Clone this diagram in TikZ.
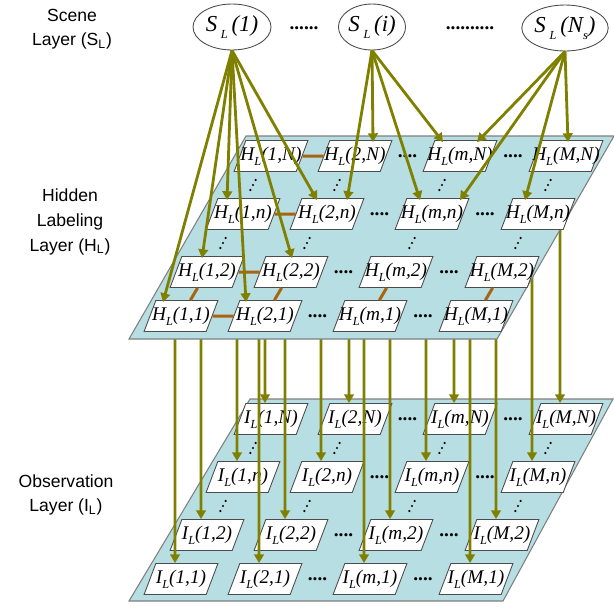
\documentclass[tikz,border=0pt]{standalone}
\usepackage{fontspec}
\setmainfont{Liberation Serif}
\newfontfamily\layerfont{Liberation Sans}
\usetikzlibrary{arrows.meta,calc,shapes.geometric}
\definecolor{planecyan}{HTML}{B7DEE2}
\definecolor{planeedge}{HTML}{7F7F7F}
\definecolor{arrowolive}{HTML}{808000}
\definecolor{linkbrown}{HTML}{A8640F}
\newcommand{\clab}[3]{\makebox[0.8cm][c]{\textit{#1\raisebox{-0.55ex}{\scriptsize L}(#2,#3)}}}
\newcommand{\slab}[1]{\textit{S\,\raisebox{-0.6ex}{\scriptsize L}\,(#1)}}
\tikzset{
  plane/.style={draw=planeedge,fill=planecyan,line width=0.6pt},
  cell/.style={trapezium,trapezium left angle=63,trapezium right angle=117,trapezium stretches=true,
    draw=gray!60!black,fill=white,line width=0.5pt,inner sep=0pt,minimum width=1.48cm,minimum height=0.62cm,
    font=\fontsize{11}{13}\selectfont},
  scenenode/.style={ellipse,draw=gray!60!black,line width=0.5pt,inner sep=0pt,minimum height=0.92cm,
    font=\fontsize{13}{15}\selectfont},
  layerlabel/.style={align=center,font=\layerfont\fontsize{10}{14}\selectfont},
  hdots/.style={anchor=base,inner sep=0pt,font=\fontsize{11}{13}\selectfont\bfseries},
  sarrow/.style={-{Triangle[length=5pt,width=5.5pt]},line width=1.6pt,arrowolive},
  link/.style={line width=1.7pt,linkbrown}
}
\pgfdeclarelayer{obs}
\pgfdeclarelayer{drop}
\pgfdeclarelayer{hplane}
\pgfsetlayers{obs,drop,hplane,main}

\begin{document}
\begin{tikzpicture}[x=0.02cm,y=-0.02cm]
  \useasboundingbox (0,0) rectangle (614,606);
  % layer names
  \node[layerlabel] (lab-s) at (72,29) {Scene\\Layer (S\textsubscript{L})};
  \node[layerlabel] (lab-h) at (70,222) {Hidden\\Labeling\\Layer (H\textsubscript{L})};
  \node[layerlabel] (lab-o) at (66,495) {Observation\\Layer (I\textsubscript{L})};
  % observation layer
  \begin{pgfonlayer}{obs}
    \draw[plane] (129,601) -- (503,601) -- (613,399) -- (250,399) -- cycle;
    \foreach \c/\cx in {1/181,2/265,m/370,M/476}{
      \foreach \r/\ry/\rs in {1/316/0,2/272/26,n/214/62,N/156/90}{
        \node[cell] (o-\c-\r) at (\cx+\rs,\ry+263) {\clab{I}{\c}{\r}};
      }
    }
    \foreach \r in {1,2,n,N}{
      \node[hdots] (od-\r-a) at ($(o-2-\r)!0.5!(o-m-\r)+(0,1)$) {....};
      \node[hdots] (od-\r-b) at ($(o-m-\r)!0.5!(o-M-\r)+(0,1)$) {....};
    }
    \foreach \c in {1,2,m,M}
      \foreach \a/\b/\dx in {N/n/-4,n/2/-2}
        \foreach \k in {-1,0,1}
          \fill ($(o-\c-\a)!0.5!(o-\c-\b)+(\dx+\k*2.6,-\k*5)$) circle (1.2);
  \end{pgfonlayer}
  % hidden labeling layer
  \begin{pgfonlayer}{hplane}
    \draw[plane] (129,339) -- (497,339) -- (614,136) -- (246,136) -- cycle;
  \end{pgfonlayer}
  \foreach \c/\cx in {1/181,2/265,m/370,M/476}{
    \foreach \r/\ry/\rs in {1/316/0,2/272/26,n/214/62,N/156/90}{
      \node[cell] (h-\c-\r) at (\cx+\rs,\ry) {\clab{H}{\c}{\r}};
    }
  }
  \foreach \r in {1,2,n,N}{
    \node[hdots] (hd-\r-a) at ($(h-2-\r)!0.5!(h-m-\r)+(0,1)$) {....};
    \node[hdots] (hd-\r-b) at ($(h-m-\r)!0.5!(h-M-\r)+(0,1)$) {....};
  }
  \foreach \c in {1,2,m,M}
    \foreach \a/\b/\dx in {N/n/-4,n/2/-2}
      \foreach \k in {-1,0,1}
        \fill ($(h-\c-\a)!0.5!(h-\c-\b)+(\dx+\k*2.6,-\k*5)$) circle (1.2);
  \foreach \r in {1,2,n,N}
    \draw[link] (h-1-\r) -- (h-2-\r);
  \foreach \c in {1,2,m,M}
    \draw[link] (h-\c-2) -- (h-\c-1);
  % hidden -> observation
  \begin{pgfonlayer}{drop}
    \foreach \c in {1,2,m,M}
      \foreach \r in {1,2,n,N}
        \draw[sarrow] ([xshift=-0.12cm]h-\c-\r.center) -- ([xshift=-0.12cm]o-\c-\r.north);
  \end{pgfonlayer}
  % scene layer
  \node[scenenode,minimum width=1.56cm] (s-1) at (232,27) {\slab{1}};
  \node[scenenode,minimum width=1.34cm] (s-i) at (372,27) {\slab{i}};
  \node[scenenode,minimum width=1.54cm] (s-N) at (565,28) {\slab{N\raisebox{-0.6ex}{\scriptsize s}}};
  \node[hdots] (sd-a) at (304,29) {......};
  \node[hdots] (sd-b) at (470,29) {..........};
  \foreach \tgt/\dx in {1-1/-18,1-2/-5,1-n/-16,2-1/-19,2-2/1,2-n/-10}
    \draw[sarrow] (s-1.south) -- ($(h-\tgt.north)+(\dx,2)$);
  \foreach \tgt/\dx in {2-N/18,2-n/20,m-N/-17,m-n/-12}
    \draw[sarrow] (s-i.south) -- ($(h-\tgt.north)+(\dx,2)$);
  \foreach \tgt/\dx in {m-N/17,m-n/28,M-n/-13,M-N/2}
    \draw[sarrow] (s-N.south) -- ($(h-\tgt.north)+(\dx,2)$);
\end{tikzpicture}
\end{document}
